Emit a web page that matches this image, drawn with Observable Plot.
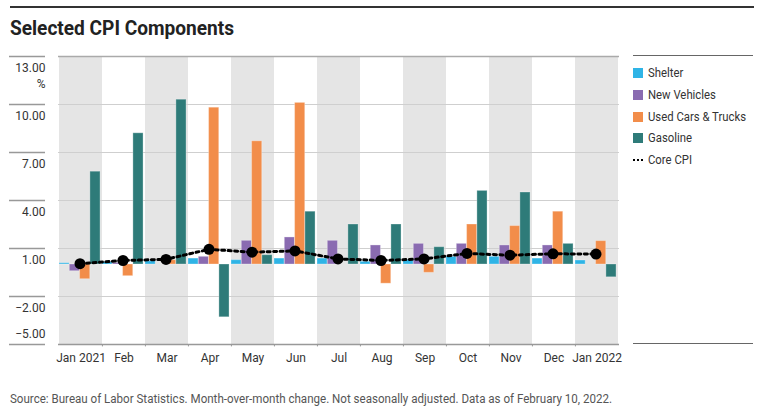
<!DOCTYPE html>
<html><head><meta charset="utf-8">
<script src="https://cdn.jsdelivr.net/npm/d3@7"></script>
<script src="https://cdn.jsdelivr.net/npm/@observablehq/plot@0.6"></script>
<style>
body{margin:0;background:#fff;font-family:Roboto,"Liberation Sans",sans-serif;}
#wrap{position:relative;width:764px;height:413px;overflow:hidden;}
#rule{position:absolute;left:10px;top:6px;width:744px;border-top:2px solid #333;}
#title{position:absolute;left:10px;top:16px;font-size:21px;font-weight:bold;color:#222;white-space:nowrap;transform-origin:0 0;}
#chart{position:absolute;left:0;top:44px;}
#legend{position:absolute;left:633px;top:55px;width:120px;border-top:1px solid #666;}
#legendBottom{position:absolute;left:633px;top:343px;width:120px;border-top:1px solid #666;}
.item{position:absolute;left:0;height:14px;font-size:12.5px;color:#333;line-height:14px;white-space:nowrap;}
.sw{position:absolute;left:0;top:2px;width:10px;height:10px;}
.lab{position:absolute;left:15px;top:0;transform-origin:0 0;}
#foot{position:absolute;left:10px;top:391px;font-size:12.5px;color:#555;white-space:nowrap;transform-origin:0 0;}
</style>
</head><body>
<div id="wrap">
<div id="rule"></div>
<div id="title">Selected CPI Components</div>
<div id="chart"></div>
<div id="legend"></div>
<div id="legendBottom"></div>
<div id="foot">Source: Bureau of Labor Statistics. Month-over-month change. Not seasonally adjusted. Data as of February 10, 2022.</div>
</div>
<script>
const months = ["Jan 2021","Feb","Mar","Apr","May","Jun","Jul","Aug","Sep","Oct","Nov","Dec","Jan 2022"];
const shelter     = [0.08, 0.15, 0.2, 0.37, 0.27, 0.37, 0.37, 0.17, 0.27, 0.48, 0.48, 0.37, 0.25];
const newVehicles = [-0.42, 0.1, 0.0, 0.48, 1.48, 1.69, 1.48, 1.19, 1.29, 1.29, 1.19, 1.19, 0.0];
const usedCars    = [-0.92, -0.73, 0.27, 9.8, 7.7, 10.1, 0.0, -1.2, -0.52, 2.5, 2.4, 3.3, 1.46];
const gasoline    = [5.8, 8.2, 10.3, -3.3, 0.58, 3.3, 2.5, 2.5, 1.08, 4.6, 4.5, 1.29, -0.8];
const coreCPI     = [0.05, 0.25, 0.32, 0.95, 0.77, 0.85, 0.35, 0.25, 0.35, 0.69, 0.58, 0.67, 0.65];
const yTicks = [-5, -2, 1, 4, 7, 10, 13];

const seriesNames = ["Shelter","New Vehicles","Used Cars & Trucks","Gasoline"];
const seriesValues = [shelter, newVehicles, usedCars, gasoline];
const colors = ["#2fb4e6","#8a6bb1","#f28d4a","#2e7b79"];

const table = seriesNames.flatMap((s, i) => months.map((m, j) => ({series: s, month: m, value: seriesValues[i][j]})));
const core = months.map((m, j) => ({month: m, value: coreCPI[j]}));

const W = 764, H = 330, mL = 58, mR = 145, mT = 12, mB = 30;
const bandW = (W - mL - mR) / months.length;
const barW = 10.3;
const fmt = d3.format(".2f");
const FONT = 'Roboto,"Liberation Sans",sans-serif';

const marks = [
  Plot.barY(months.filter((d, i) => i % 2 === 0), {x: d => d, y1: yTicks[0], y2: yTicks[yTicks.length-1], fill: "#e5e5e5"}),
  Plot.ruleY(yTicks.slice(1, -1), {stroke: "#cfcfcf", strokeWidth: 1}),
  Plot.ruleY([13], {stroke: "#aaa", strokeWidth: 1.5}),
  Plot.ruleY([-5], {stroke: "#999", strokeWidth: 1.5}),
  Plot.axisY(yTicks, {tickSize: 36, dx: -13, tickFormat: () => "", label: null, stroke: "#999", strokeWidth: 1.5}),
  Plot.axisY(yTicks.filter(d => d > -5), {tickSize: 0, tickPadding: 0, dx: -13, dy: 12, tickFormat: fmt, label: null, fontSize: 12, fill: "#333"}),
  Plot.axisY([-5], {tickSize: 0, tickPadding: 0, dx: -13, dy: -10, tickFormat: fmt, label: null, fontSize: 12, fill: "#333"}),
  Plot.text(["%"], {text: d => d, y: () => 13, frameAnchor: "left", textAnchor: "end", dx: -13, dy: 28, fontSize: 12, fill: "#333"}),
  ...seriesNames.map((s, i) => Plot.barY(table.filter(d => d.series === s), {
    x: "month", y: "value", fill: colors[i],
    stroke: "white", strokeOpacity: 0.3, strokeWidth: 1,
    insetLeft: i * barW, insetRight: bandW - (i + 1) * barW
  })),
  Plot.ruleX(months.slice(1), {x: d => d, dx: -bandW / 2, y1: -5, y2: -5.15, stroke: "#999"}),
  Plot.axisX({tickSize: 0, tickPadding: 9, fontSize: 12, fill: "#333", label: null}),
  Plot.line(core, {x: "month", y: "value", stroke: "black", strokeWidth: 3, strokeDasharray: "3,3.5", dx: -1}),
  Plot.dot(core, {x: "month", y: "value", r: 5.5, fill: "black", dx: -1})
];

const chart = Plot.plot({
  width: W, height: H,
  marginLeft: mL, marginRight: mR, marginTop: mT, marginBottom: mB,
  style: {fontFamily: FONT, background: "transparent"},
  x: {type: "band", domain: months, padding: 0, axis: null},
  y: {domain: [-5, 13], axis: null},
  marks
});
document.getElementById("chart").appendChild(chart);

// legend
const legend = document.getElementById("legend");
const legendItems = [...seriesNames.map((s, i) => ({label: s, color: colors[i]})), {label: "Core CPI", dotted: true}];
const labs = [];
legendItems.forEach((it, k) => {
  const div = document.createElement("div");
  div.className = "item";
  div.style.top = (10 + k * 21.8) + "px";
  const sw = document.createElement("div");
  sw.className = "sw";
  if (it.dotted) {
    sw.style.background = "none";
    sw.style.top = "6px";
    sw.style.height = "0";
    sw.style.borderTop = "2px dotted #000";
  } else {
    sw.style.background = it.color;
  }
  const lab = document.createElement("span");
  lab.className = "lab";
  lab.textContent = it.label;
  div.appendChild(sw); div.appendChild(lab);
  legend.appendChild(div);
  labs.push(lab);
});

// condense HTML texts to the reference's narrow type widths
function fit(el, target) {
  const w = el.getBoundingClientRect().width;
  if (w > 0) el.style.transform = `scaleX(${target / w})`;
}
fit(document.getElementById("title"), 224);
fit(document.getElementById("foot"), 602);
const k = 98 / labs[2].getBoundingClientRect().width;
labs.forEach(l => l.style.transform = `scaleX(${k})`);
</script>
</body></html>
